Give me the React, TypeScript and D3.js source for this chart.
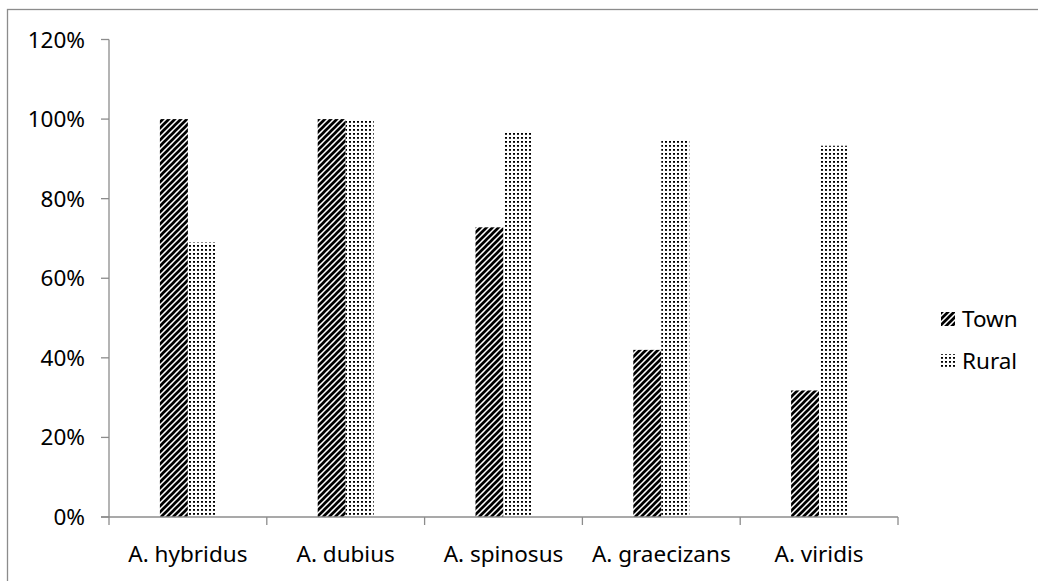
import React from "react";
import * as d3 from "d3";

const categories = ["A. hybridus", "A. dubius", "A. spinosus", "A. graecizans", "A. viridis"];
const townValues = [100, 100, 72.8, 42, 31.8];
const ruralValues = [69, 100, 96.6, 94.7, 93.3];
const yTicks = [0, 20, 40, 60, 80, 100, 120];
const seriesNames = ["Town", "Rural"];

const W = 1038;
const H = 581;
const plot = { left: 109, right: 898, top: 39.5, bottom: 517 };
const FONT = "'Noto Sans', 'Open Sans', sans-serif";

export default function App() {
  const x = d3.scaleBand<string>().domain(categories).range([plot.left, plot.right]).paddingInner(0).paddingOuter(0);
  const y = d3.scaleLinear().domain([0, 120]).range([plot.bottom, plot.top]);
  const barW = 28;
  const fills = ["url(#townPat)", "url(#ruralPat)"];
  const series = [townValues, ruralValues];

  return (
    <svg width={W} height={H} style={{ position: "fixed", left: 0, top: 0, background: "#fff" }}>
      <defs>
        <pattern id="townPat" patternUnits="userSpaceOnUse" width={6} height={6}>
          <rect width={6} height={6} fill="#fff" />
          <path d="M0,6 L6,0 M-3,3 L3,-3 M3,9 L9,3" stroke="#000" strokeWidth={2.7} />
        </pattern>
        <pattern id="ruralPat" patternUnits="userSpaceOnUse" width={4} height={4}>
          <rect width={4} height={4} fill="#fff" />
          <rect x={1} y={1} width={2} height={1.8} fill="#000" />
        </pattern>
      </defs>
      <rect x={7.5} y={9.5} width={W + 20} height={H + 20} fill="#fff" stroke="#8c8c8c" strokeWidth={1.3} />

      {series.map((vals, si) =>
        vals.map((v, i) => {
          const c = x(categories[i])! + x.bandwidth() / 2;
          const bx = si === 0 ? c - barW : c;
          return (
            <rect key={`${si}-${i}`} x={bx} y={y(v)} width={barW} height={y(0) - y(v)} fill={fills[si]} />
          );
        })
      )}

      <line x1={plot.left} x2={plot.left} y1={y(120)} y2={plot.bottom + 8} stroke="#8c8c8c" strokeWidth={1.3} />
      {yTicks.map((t) => (
        <g key={t}>
          <line x1={plot.left - 8} x2={plot.left} y1={y(t)} y2={y(t)} stroke="#8c8c8c" strokeWidth={1.3} />
          <text x={85} y={y(t) + 8} textAnchor="end" fontFamily={FONT} fontSize={22.5} fill="#000">
            {t}%
          </text>
        </g>
      ))}

      <line x1={plot.left - 8} x2={plot.right} y1={plot.bottom} y2={plot.bottom} stroke="#8c8c8c" strokeWidth={1.3} />
      {categories.map((c) => (
        <g key={c}>
          <line x1={x(c)! + x.bandwidth()} x2={x(c)! + x.bandwidth()} y1={plot.bottom} y2={plot.bottom + 8} stroke="#8c8c8c" strokeWidth={1.3} />
          <text x={x(c)! + x.bandwidth() / 2} y={562} textAnchor="middle" fontFamily={FONT} fontSize={22.5} fill="#000">
            {c}
          </text>
        </g>
      ))}

      {seriesNames.map((n, i) => {
        const cy = 319 + i * 42;
        return (
          <g key={n}>
            <rect x={941} y={cy - 7} width={14} height={14} fill={fills[i]} />
            <text x={962} y={cy + 8} fontFamily={FONT} fontSize={22.5} fill="#000">
              {n}
            </text>
          </g>
        );
      })}
    </svg>
  );
}
